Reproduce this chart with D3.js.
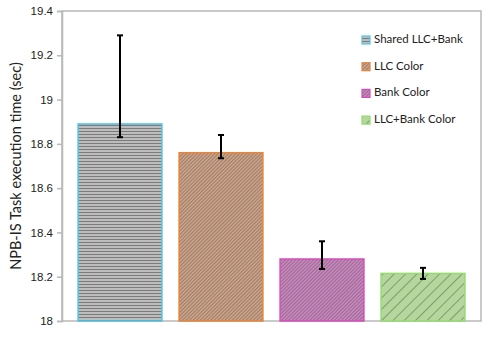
<!DOCTYPE html>
<html lang="en">
<head>
  <meta charset="utf-8">
  <title>NPB-IS</title>
  <style>
    body { margin: 0; background: #fff; }
    svg { display: block; font-family: Lato, "Open Sans", sans-serif; }
  </style>
</head>
<body>
  <div id="chart"></div>
  <script src="https://d3js.org/d3.v7.min.js"></script>
  <script>
    // data
    const categories = ['Shared LLC+Bank', 'LLC Color', 'Bank Color', 'LLC+Bank Color'];
    const values = [18.89, 18.76, 18.28, 18.215];
    const errLow = [18.83, 18.735, 18.235, 18.19];
    const errHigh = [19.29, 18.84, 18.36, 18.24];
    const yTicks = [18, 18.2, 18.4, 18.6, 18.8, 19, 19.2, 19.4];

    const width = 486, height = 340;
    const margin = { top: 11, right: 5, bottom: 19, left: 62 };

    const svg = d3.select('#chart').append('svg')
      .attr('width', width)
      .attr('height', height);

    const defs = svg.append('defs');

    // fill patterns
    const p1 = defs.append('pattern').attr('id', 'pat0')
      .attr('patternUnits', 'userSpaceOnUse').attr('width', 4).attr('height', 3);
    p1.append('rect').attr('width', 4).attr('height', 3).attr('fill', '#bdbdbd');
    p1.append('rect').attr('y', 2).attr('width', 4).attr('height', 1).attr('fill', '#7b7b7b');

    function fineHatch(id, bg, fg) {
      const p = defs.append('pattern').attr('id', id)
        .attr('patternUnits', 'userSpaceOnUse').attr('width', 2.5).attr('height', 2.5)
        .attr('patternTransform', 'rotate(45)');
      p.append('rect').attr('width', 2.5).attr('height', 2.5).attr('fill', bg);
      p.append('rect').attr('width', 1).attr('height', 2.5).attr('fill', fg);
    }
    fineHatch('pat1', '#c9a68f', '#a37a60');
    fineHatch('pat2', '#c68cb8', '#a0649a');

    const p4 = defs.append('pattern').attr('id', 'pat3')
      .attr('patternUnits', 'userSpaceOnUse').attr('width', 8).attr('height', 8)
      .attr('patternTransform', 'rotate(-45)');
    p4.append('rect').attr('width', 8).attr('height', 8).attr('fill', '#b5d69d');
    p4.append('rect').attr('width', 8).attr('height', 0.8).attr('fill', '#6f8f62');

    const strokes = ['#4fc6e6', '#e8843c', '#d64cbc', '#93dc6e'];

    const y = d3.scaleLinear()
      .domain([18, 19.4])
      .range([height - margin.bottom, margin.top]);

    const x = d3.scaleBand()
      .domain(categories)
      .range([69.5, 473.5])
      .paddingInner(0.17)
      .paddingOuter(0.085);

    // plot frame
    svg.append('rect')
      .attr('x', margin.left)
      .attr('y', margin.top)
      .attr('width', width - margin.right - margin.left)
      .attr('height', height - margin.bottom - margin.top)
      .attr('fill', 'none')
      .attr('stroke', '#b8b8b8')
      .attr('stroke-width', 1.5);

    // y axis
    const yAxis = svg.append('g')
      .attr('transform', `translate(${margin.left},0)`)
      .call(d3.axisLeft(y).tickValues(yTicks).tickFormat(d3.format('')).tickSizeOuter(0).tickSize(5).tickPadding(4));
    yAxis.select('.domain').attr('stroke', '#b8b8b8').attr('stroke-width', 1.5);
    yAxis.selectAll('.tick line').attr('stroke', '#b8b8b8').attr('stroke-width', 1.5);
    yAxis.selectAll('.tick text').attr('font-size', 11.5).attr('fill', '#222');

    svg.append('text')
      .attr('transform', `translate(17,${(margin.top + height - margin.bottom) / 2}) rotate(-90)`)
      .attr('text-anchor', 'middle')
      .attr('dominant-baseline', 'middle')
      .attr('font-size', 14.5)
      .attr('fill', '#222')
      .text('NPB-IS Task execution time (sec)');

    // bars
    svg.append('g').selectAll('rect')
      .data(categories)
      .join('rect')
      .attr('x', d => x(d))
      .attr('y', (d, i) => y(values[i]))
      .attr('width', x.bandwidth())
      .attr('height', (d, i) => y(18) - y(values[i]))
      .attr('fill', (d, i) => `url(#pat${i})`)
      .attr('stroke', (d, i) => strokes[i])
      .attr('stroke-width', 1.5);

    // error bars
    const eg = svg.append('g').attr('stroke', '#000').attr('stroke-width', 2);
    categories.forEach((c, i) => {
      const cx = x(c) + x.bandwidth() / 2;
      eg.append('line').attr('x1', cx).attr('x2', cx).attr('y1', y(errLow[i])).attr('y2', y(errHigh[i]));
      eg.append('line').attr('x1', cx - 3).attr('x2', cx + 3).attr('y1', y(errLow[i])).attr('y2', y(errLow[i]));
      eg.append('line').attr('x1', cx - 3).attr('x2', cx + 3).attr('y1', y(errHigh[i])).attr('y2', y(errHigh[i]));
    });

    // legend
    const legend = svg.append('g').attr('transform', 'translate(362,36)');
    const li = legend.selectAll('g')
      .data(categories)
      .join('g')
      .attr('transform', (d, i) => `translate(0,${i * 26.7})`);
    li.append('rect')
      .attr('x', 0).attr('y', 0).attr('width', 8).attr('height', 8)
      .attr('fill', (d, i) => `url(#pat${i})`)
      .attr('stroke', (d, i) => strokes[i])
      .attr('stroke-width', 1.2);
    li.append('text')
      .attr('x', 12).attr('y', 4)
      .attr('dominant-baseline', 'middle')
      .attr('font-size', 11.5)
      .attr('fill', '#222')
      .text(d => d);
  </script>
</body>
</html>
